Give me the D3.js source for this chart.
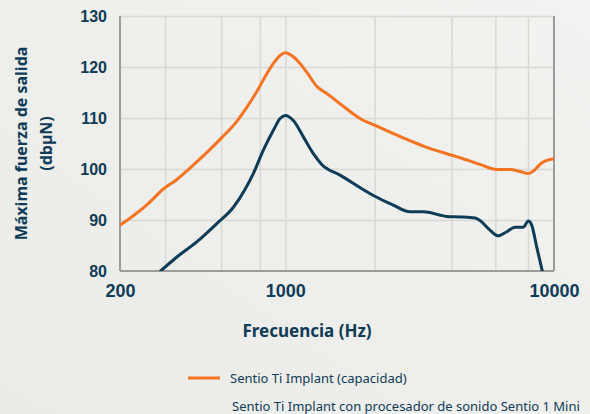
<!DOCTYPE html>
<html>
<head>
<meta charset="utf-8">
<script src="https://cdn.jsdelivr.net/npm/d3@7"></script>
<style>
  html, body { margin: 0; padding: 0; }
  body { width: 590px; height: 414px; overflow: hidden; background: #eeeeec; }
  svg { display: block; font-family: 'Noto Sans', sans-serif; }
</style>
</head>
<body>
<svg id="chart"></svg>
<script>
/* global d3 */

// data
const orangeFreq = [200, 224, 259, 277, 300, 347, 389, 465, 540, 620, 680, 760, 830, 900, 965, 1000,
  1071, 1201, 1309, 1426, 1598, 1897, 2189, 2830, 3263, 4163, 4469, 5304, 6118, 6859, 7471, 8024, 8375, 9000, 10000]
const orangeDb = [89.0, 90.6, 92.9, 94.2, 95.8, 97.9, 99.9, 103.2, 106.2, 109.2, 111.8, 115.3, 118.5, 121.0, 122.5, 122.8,
  122.0, 119.0, 116.2, 114.8, 112.8, 109.9, 108.4, 105.8, 104.5, 102.7, 102.2, 100.9, 99.9, 99.9, 99.5, 99.1, 99.6, 101.2, 102.0]

const navyFreq = [297, 347, 422, 513, 603, 675, 732, 807, 890, 950, 1000, 1071, 1167, 1271, 1366, 1598,
  2126, 2523, 2911, 3263, 3988, 4469, 5082, 5304, 5778, 6204, 6668, 7160, 7686, 8024, 8260, 8622, 9046]
const navyDb = [80.0, 82.7, 85.7, 89.3, 92.5, 96.0, 99.1, 103.7, 107.6, 109.9, 110.5, 109.5, 106.3, 103.0, 100.9, 98.8,
  94.8, 92.9, 91.6, 91.6, 90.7, 90.6, 90.4, 89.9, 88.0, 86.9, 87.7, 88.6, 88.6, 89.8, 89.0, 84.7, 80.0]

const xTicks = [200, 1000, 10000]
const gridFreqs = [310, 535, 780, 2150, 4150, 6050, 8000]
const yTicks = [80, 90, 100, 110, 120, 130]

const seriesNames = ['Sentio Ti Implant (capacidad)', 'Sentio Ti Implant con procesador de sonido Sentio 1 Mini']
const seriesColors = ['#f47321', '#0c3c58']

const textColor = '#0e3b57'

// chart dimensions
const w = 590
const h = 414
const margin = { top: 16, right: 36, bottom: 143, left: 120 }
const innerW = w - margin.left - margin.right
const innerH = h - margin.top - margin.bottom

const svg = d3.select('#chart')
  .attr('width', w)
  .attr('height', h)

// soft background
const defs = svg.append('defs')
const grad = defs.append('linearGradient')
  .attr('id', 'bg')
  .attr('x1', '0').attr('y1', '1')
  .attr('x2', '1').attr('y2', '0')
grad.append('stop').attr('offset', '0').attr('stop-color', '#ebebe8')
grad.append('stop').attr('offset', '1').attr('stop-color', '#f2f2f0')

svg.append('rect')
  .attr('width', w)
  .attr('height', h)
  .attr('fill', 'url(#bg)')

defs.append('clipPath')
  .attr('id', 'plot-clip')
  .append('rect')
  .attr('width', innerW)
  .attr('height', innerH)

const g = svg.append('g')
  .attr('transform', `translate(${margin.left}, ${margin.top})`)

// x scale: log, with the 200-1000 decade drawn a little narrower than the next one
const xScale = d3.scaleLog()
  .domain([200, 1000, 10000])
  .range([0, innerW * 0.381, innerW])

const yScale = d3.scaleLinear()
  .domain([80, 130])
  .range([innerH, 0])

// gridlines
g.append('g')
  .attr('class', 'grid')
  .call(d3.axisBottom(xScale).tickValues(gridFreqs.concat([1000])).tickSize(innerH).tickFormat(''))
  .call(s => s.select('.domain').remove())
  .selectAll('line')
  .attr('stroke', '#d8d8d5')
  .attr('stroke-width', 1.5)

g.append('g')
  .attr('class', 'grid')
  .call(d3.axisLeft(yScale).tickValues(yTicks.slice(1)).tickSize(-innerW).tickFormat(''))
  .call(s => s.select('.domain').remove())
  .selectAll('line')
  .attr('stroke', '#d8d8d5')
  .attr('stroke-width', 1.5)

// axis frame: left, bottom, right
const frame = g.append('g')
  .attr('stroke', '#9c9c9a')
  .attr('stroke-width', 2)
frame.append('line').attr('x1', 0).attr('x2', 0).attr('y1', 0).attr('y2', innerH)
frame.append('line').attr('x1', 0).attr('x2', innerW).attr('y1', innerH).attr('y2', innerH)
frame.append('line').attr('x1', innerW).attr('x2', innerW).attr('y1', 0).attr('y2', innerH)

// tick labels
const yAxis = g.append('g')
  .call(d3.axisLeft(yScale).tickValues(yTicks).tickSize(0).tickPadding(13))
yAxis.select('.domain').remove()
yAxis.selectAll('text')
  .attr('fill', textColor)
  .style('font-size', '16px')
  .style('font-weight', 700)

const xAxis = g.append('g')
  .attr('transform', `translate(0, ${innerH})`)
  .call(d3.axisBottom(xScale).tickValues(xTicks).tickSize(0).tickPadding(13).tickFormat(d3.format('d')))
xAxis.select('.domain').remove()
xAxis.selectAll('text')
  .attr('fill', textColor)
  .style('font-size', '18px')
  .style('font-weight', 700)

// axis titles
svg.append('text')
  .attr('x', margin.left + innerW * 0.431)
  .attr('y', 337)
  .attr('text-anchor', 'middle')
  .attr('fill', textColor)
  .style('font-size', '17px')
  .style('font-weight', 700)
  .text('Frecuencia (Hz)')

const yTitle = svg.append('text')
  .attr('transform', `translate(27, ${margin.top + innerH / 2}) rotate(-90)`)
  .attr('text-anchor', 'middle')
  .attr('fill', textColor)
  .style('font-size', '16px')
  .style('font-weight', 700)
yTitle.append('tspan').attr('x', 0).attr('dy', 0).text('Máxima fuerza de salida')
yTitle.append('tspan').attr('x', 0).attr('dy', 25).text('(dbµN)')

// lines
const line = d3.line()
  .x(d => xScale(d[0]))
  .y(d => yScale(d[1]))
  .curve(d3.curveMonotoneX)

const series = [
  d3.zip(orangeFreq, orangeDb),
  d3.zip(navyFreq, navyDb)
]

g.append('g')
  .attr('clip-path', 'url(#plot-clip)')
  .selectAll('path')
  .data(series)
  .enter()
  .append('path')
  .attr('d', line)
  .attr('fill', 'none')
  .attr('stroke', (d, i) => seriesColors[i])
  .attr('stroke-width', 3)
  .attr('stroke-linejoin', 'round')
  .attr('stroke-linecap', 'round')

// legend
const legend = svg.selectAll('.legend')
  .data(seriesNames)
  .enter()
  .append('g')
  .attr('class', 'legend')
  .attr('transform', (d, i) => `translate(188, ${378 + i * 28})`)

// the second entry's key sits lower (its block runs past the bottom of the frame)
legend.append('line')
  .attr('x1', 0)
  .attr('x2', 32)
  .attr('y1', (d, i) => i * 14)
  .attr('y2', (d, i) => i * 14)
  .attr('stroke', (d, i) => seriesColors[i])
  .attr('stroke-width', 3)

legend.append('text')
  .attr('x', (d, i) => 42 + i * 2)
  .attr('dy', '0.35em')
  .attr('fill', textColor)
  .style('font-size', '13px')
  .text(d => d)
</script>
</body>
</html>
